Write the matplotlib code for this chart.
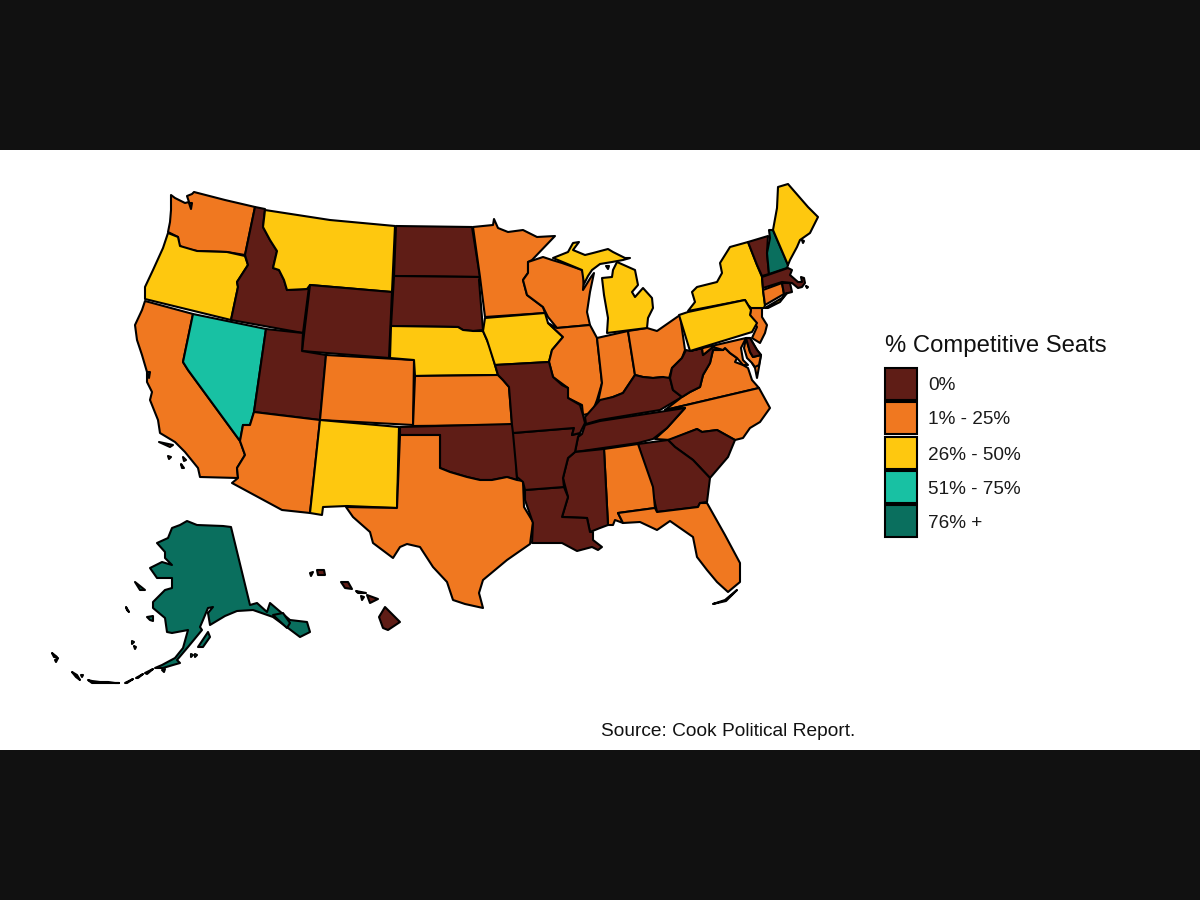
import matplotlib
matplotlib.use("Agg")
from matplotlib import pyplot as plt
from matplotlib.patches import Polygon, Rectangle

plt.rcParams['font.family'] = ['Liberation Sans', 'DejaVu Sans']

# legend
legend_title = "% Competitive Seats"
bin_labels = ["0%", "1% - 25%", "26% - 50%", "51% - 75%", "76% +"]
bin_colors = ["#5f1d16", "#f07820", "#fec80f", "#18c1a3", "#0a6f5e"]
source_text = "Source: Cook Political Report."

# which legend bin each state falls in
bin_0 = ["ID", "WY", "UT", "ND", "SD", "OK", "MO", "AR", "LA", "MS", "TN", "KY", "WV", "GA", "SC", "VT", "MA", "RI", "DE", "HI"]
bin_1 = ["WA", "CA", "AZ", "CO", "KS", "TX", "MN", "WI", "IL", "IN", "OH", "AL", "FL", "NC", "VA", "MD", "NJ", "CT"]
bin_2 = ["OR", "MT", "NM", "NE", "IA", "MI", "PA", "NY", "ME"]
bin_3 = ["NV"]
bin_4 = ["NH", "AK"]

# state outlines, in picture pixels
WA = [(171,195),(175,198),(185,203),(189,202),(187,196),(192,194),(194,192),(225,200),(255,207),(245,255),(227,252),(197,251),(183,248),(179,245),(178,237),(168,232),(170,222),(171,210)]
OR = [(168,233),(178,237),(180,246),(197,251),(227,252),(245,256),(248,265),(237,282),(238,287),(231,320),(145,299),(145,287),(153,270),(163,248)]
CA = [(145,301),(193,314),(183,362),(188,370),(240,441),(245,455),(237,468),(238,478),(200,477),(198,468),(185,452),(175,442),(160,433),(158,420),(150,400),(152,392),(147,382),(147,372),(142,355),(137,340),(135,325),(142,310)]
NV = [(193,314),(266,329),(254,412),(250,425),(243,425),(240,441),(188,370),(183,362)]
ID = [(255,207),(265,209),(263,227),(270,240),(277,251),(273,268),(279,270),(284,280),(287,290),(307,289),(309,287),(303,333),(231,320),(238,287),(237,282),(248,265),(245,255)]
MT = [(265,210),(330,220),(395,226),(392,292),(310,285),(307,289),(287,290),(284,280),(279,270),(273,268),(277,251),(270,240),(263,227)]
WY = [(310,285),(392,292),(389,358),(302,351)]
UT = [(266,329),(303,333),(302,351),(326,355),(320,420),(254,412)]
CO = [(326,355),(414,360),(413,425),(320,420)]
AZ = [(254,412),(320,420),(310,513),(282,510),(232,483),(238,478),(237,468),(245,455),(240,441),(243,425),(250,425)]
NM = [(320,420),(399,427),(397,508),(347,506),(323,507),(322,515),(310,513)]
ND = [(396,226),(472,227),(480,277),(394,276)]
SD = [(394,276),(480,277),(479,280),(483,330),(473,331),(463,330),(458,327),(391,326)]
NE = [(391,326),(458,327),(463,330),(473,331),(483,331),(490,347),(495,365),(498,375),(415,376),(414,360),(390,358)]
KS = [(415,376),(498,375),(503,380),(509,387),(512,425),(413,426)]
OK = [(400,427),(512,424),(515,433),(517,480),(507,477),(492,480),(480,480),(467,477),(450,472),(440,468),(440,435),(400,435)]
TX = [(400,435),(440,435),(440,468),(450,472),(467,477),(480,480),(492,480),(507,477),(517,480),(523,481),(524,507),(533,522),(530,544),(507,560),(483,580),(479,593),(483,608),(465,604),(453,600),(447,582),(433,567),(420,547),(407,544),(400,547),(393,558),(373,543),(370,532),(353,517),(346,507),(397,508)]
MN = [(473,227),(493,225),(494,219),(498,228),(508,232),(523,230),(537,237),(555,236),(532,260),(528,262),(528,273),(523,280),(527,295),(543,307),(545,313),(485,317),(480,277)]
IA = [(485,318),(545,313),(548,323),(563,337),(552,350),(549,362),(495,365),(487,340),(483,331)]
WI = [(528,262),(543,257),(552,260),(562,263),(582,270),(584,276),(583,290),(591,277),(594,273),(590,292),(587,312),(590,325),(557,328),(548,317),(543,307),(527,295),(523,280),(528,273)]
MI_U = [(553,258),(568,252),(573,243),(579,242),(573,250),(585,255),(593,253),(608,249),(613,252),(625,258),(630,258),(623,260),(612,262),(600,264),(592,270),(588,276),(584,284),(582,270)]
MI_L = [(617,262),(635,270),(638,285),(632,292),(635,297),(643,288),(652,298),(653,308),(648,318),(647,328),(607,333),(608,318),(604,295),(602,278),(612,277),(613,270)]
IL = [(557,328),(590,325),(597,338),(602,383),(597,400),(592,413),(583,415),(582,405),(568,398),(568,388),(553,377),(549,362),(552,350),(563,337),(548,323)]
IN = [(597,338),(628,331),(635,375),(623,393),(613,397),(607,399),(598,402),(602,383)]
OH = [(628,331),(647,328),(657,331),(680,315),(684,343),(685,350),(682,358),(672,368),(668,382),(663,377),(653,378),(643,377),(635,375)]
KY = [(585,417),(600,400),(613,397),(623,393),(635,375),(643,377),(653,378),(663,377),(670,378),(673,390),(682,397),(660,410),(600,420),(586,424)]
WV = [(686,350),(690,351),(702,348),(703,355),(713,347),(723,350),(713,350),(710,363),(703,375),(700,387),(690,392),(682,397),(673,390),(670,378),(672,368),(682,358)]
VA = [(665,410),(682,397),(690,392),(700,387),(703,375),(710,363),(713,350),(723,350),(725,348),(730,353),(737,358),(735,362),(743,365),(748,368),(752,380),(759,388)]
VA_E = [(753,357),(761,355),(759,367),(757,378),(755,368),(752,363)]
MD_W = [(690,351),(746,338),(741,348),(743,360),(748,365),(743,365),(737,358),(730,353),(725,348),(723,350),(713,347),(703,355),(702,348)]
MD_E = [(746,338),(750,352),(753,357),(761,355),(759,365),(755,367),(752,363),(747,358),(744,348)]
DE = [(746,338),(750,338),(757,350),(761,355),(753,357),(750,352)]
NJ = [(751,308),(762,308),(762,317),(767,325),(765,333),(760,343),(752,338),(757,327),(750,315)]
PA = [(679,315),(688,312),(745,300),(748,305),(751,310),(750,315),(757,323),(752,332),(690,351)]
NY = [(688,311),(695,302),(692,292),(697,287),(717,282),(722,273),(720,263),(730,247),(748,242),(757,265),(762,277),(763,290),(765,305),(764,308),(751,308),(748,305),(745,300)]
NY_LI = [(765,308),(782,298),(787,293),(780,302),(768,308)]
VT = [(748,242),(768,236),(767,253),(769,274),(762,276),(757,265)]
NH = [(769,230),(773,230),(788,265),(787,268),(769,274),(767,253),(770,238)]
ME = [(773,230),(777,208),(778,187),(788,184),(808,207),(818,217),(810,233),(800,240),(797,247),(790,260),(788,265)]
MA = [(762,277),(788,268),(792,270),(790,275),(798,282),(802,282),(801,277),(804,278),(805,283),(802,287),(798,288),(792,283),(782,282),(763,288)]
CT = [(763,290),(782,283),(784,294),(765,305)]
RI = [(782,283),(790,283),(792,292),(784,294)]
NC = [(759,388),(770,408),(760,422),(750,428),(743,438),(735,440),(717,430),(702,432),(697,429),(670,440),(655,439),(667,428),(685,408),(665,410)]
TN = [(585,425),(600,421),(685,408),(667,428),(653,439),(638,443),(575,452),(578,437),(582,434)]
SC = [(668,440),(697,429),(702,432),(717,430),(735,440),(728,457),(710,478),(693,460),(675,447)]
GA = [(638,444),(668,440),(675,447),(693,460),(710,478),(707,502),(700,503),(698,507),(657,512),(652,490)]
AL = [(604,449),(638,444),(653,487),(655,508),(618,513),(623,523),(615,520),(613,525),(608,525)]
FL = [(618,513),(655,508),(657,512),(698,507),(700,503),(707,503),(725,535),(740,563),(740,582),(728,592),(717,582),(707,570),(697,557),(693,537),(670,521),(657,530),(640,522),(623,523)]
MS = [(575,452),(604,449),(608,525),(600,528),(590,532),(587,518),(562,517),(568,497),(563,478),(565,470),(568,458)]
LA = [(525,490),(564,487),(568,497),(562,517),(587,518),(590,532),(593,532),(593,540),(602,547),(598,550),(592,547),(577,551),(562,543),(540,543),(532,543),(533,523),(525,500)]
AR = [(513,433),(574,428),(572,435),(580,433),(578,437),(575,452),(568,458),(565,470),(563,478),(564,487),(525,490),(523,482),(517,477)]
MO = [(495,365),(549,362),(553,377),(562,385),(568,388),(568,398),(580,405),(583,415),(585,423),(580,433),(572,435),(574,428),(513,433),(512,425),(509,387),(503,380),(498,375)]
AK = [(187,521),(197,525),(223,526),(231,527),(250,605),(257,603),(267,612),(270,603),(290,620),(307,622),(310,632),(300,637),(288,628),(273,617),(253,610),(237,611),(225,616),(210,625),(208,613),(213,607),(208,608),(203,620),(200,627),(202,630),(188,647),(177,660),(180,663),(173,665),(163,668),(155,668),(162,665),(175,658),(183,648),(188,630),(172,633),(167,632),(165,618),(153,608),(153,602),(165,590),(172,588),(172,578),(157,578),(150,568),(162,562),(172,565),(165,558),(165,552),(157,543),(168,538),(172,528),(180,525)]
HI = [(385,607),(400,622),(388,630),(383,628),(379,617)]

# the smaller pieces that belong to a state: (state, outline)
extra_parts = [
    ("HI", [(367,595),(378,599),(370,603)]),
    ("HI", [(356,591),(366,593),(358,593)]),
    ("HI", [(341,582),(348,582),(352,589),(345,588)]),
    ("HI", [(317,570),(324,570),(325,575),(318,575)]),
    ("HI", [(310,573),(313,572),(311,576)]),
    ("HI", [(361,596),(364,597),(362,600)]),
    ("AK", [(198,647),(208,632),(210,637),(203,647)]),
    ("AK", [(135,582),(145,590),(140,590)]),
    ("AK", [(147,617),(153,616),(153,621),(150,620)]),
    ("AK", [(126,607),(129,612),(127,610)]),
    ("AK", [(132,641),(134,642),(132,644)]),
    ("AK", [(134,646),(136,647),(135,649)]),
    ("AK", [(191,654),(193,655),(191,657)]),
    ("AK", [(195,654),(197,655),(195,657)]),
    ("AK", [(52,653),(57,657),(54,657)]),
    ("AK", [(55,660),(58,658),(56,662)]),
    ("AK", [(72,672),(77,675),(80,680),(76,677)]),
    ("AK", [(81,675),(83,675),(82,677)]),
    ("AK", [(88,680),(92,681),(100,682),(108,682),(115,683),(119,683),(108,683),(92,683)]),
    ("AK", [(125,683),(133,679),(127,683)]),
    ("AK", [(136,678),(143,674),(138,678)]),
    ("AK", [(145,673),(153,669),(147,674)]),
    ("AK", [(162,670),(165,669),(164,672)]),
    ("AK", [(273,615),(283,613),(290,623),(287,628)]),
    ("CA", [(159,442),(173,445),(170,447)]),
    ("CA", [(168,456),(171,457),(169,459)]),
    ("CA", [(183,457),(186,460),(184,461)]),
    ("CA", [(181,464),(184,468),(182,468)]),
    ("CA", [(147,372),(150,372),(149,378)]),
    ("FL", [(713,604),(725,600),(737,590),(726,601)]),
    ("WA", [(189,203),(192,203),(191,209)]),
    ("MA", [(806,286),(808,287),(807,288)]),
    ("ME", [(802,240),(804,241),(803,243)]),
    ("MI", MI_L),
    ("MI", [(606,266),(609,266),(608,269)]),
    ("NY", NY_LI),
    ("VA", VA_E),
    ("MD", MD_E),
]

states = {"WA": WA, "OR": OR, "CA": CA, "NV": NV, "ID": ID, "MT": MT, "WY": WY, "UT": UT, "CO": CO,
          "AZ": AZ, "NM": NM, "ND": ND, "SD": SD, "NE": NE, "KS": KS, "OK": OK, "TX": TX, "MN": MN,
          "IA": IA, "WI": WI, "MI": MI_U, "IL": IL, "IN": IN, "OH": OH, "KY": KY, "VA": VA, "WV": WV,
          "MD": MD_W, "DE": DE, "NJ": NJ, "NY": NY, "PA": PA, "VT": VT, "NH": NH, "ME": ME, "MA": MA,
          "CT": CT, "RI": RI, "NC": NC, "TN": TN, "SC": SC, "GA": GA, "AL": AL, "FL": FL, "MS": MS,
          "LA": LA, "AR": AR, "MO": MO, "AK": AK, "HI": HI}

state_color = {}
for i, group in enumerate([bin_0, bin_1, bin_2, bin_3, bin_4]):
    for s in group:
        state_color[s] = bin_colors[i]

fig = plt.figure(figsize=(12, 9), dpi=100, facecolor="white")
ax = fig.add_axes([0, 0, 1, 1])
ax.set_xlim(0, 1200)
ax.set_ylim(900, 0)
ax.axis("off")

for s, outline in states.items():
    ax.add_patch(Polygon(outline, closed=True, fc=state_color[s], ec="black", lw=1.5, joinstyle="round", zorder=2))
for s, outline in extra_parts:
    ax.add_patch(Polygon(outline, closed=True, fc=state_color[s], ec="black", lw=1.5, joinstyle="round", zorder=2))
# Delaware sits on top of the Maryland piece
ax.add_patch(Polygon(DE, closed=True, fc=state_color["DE"], ec="black", lw=1.5, joinstyle="round", zorder=3))

# legend keys
key_tops = [368, 402, 437, 471, 505]
for top, color, label in zip(key_tops, bin_colors, bin_labels):
    ax.add_patch(Rectangle((885, top), 32, 32, fc=color, ec="black", lw=1.5, zorder=2))
    ax.text(928, top + 18, label, fontsize=13.7, color="#1a1a1a", va="center", ha="left")
ax.text(885, 346, legend_title, fontsize=17.2, color="#111111", va="center", ha="left")
ax.text(601, 732, source_text, fontsize=13.8, color="#111111", va="center", ha="left")

# dark bars above and below the picture
ax.add_patch(Rectangle((0, 0), 1200, 150, fc="#111111", ec="none", zorder=5))
ax.add_patch(Rectangle((0, 750), 1200, 150, fc="#111111", ec="none", zorder=5))

fig.savefig("out.png", dpi=100)
